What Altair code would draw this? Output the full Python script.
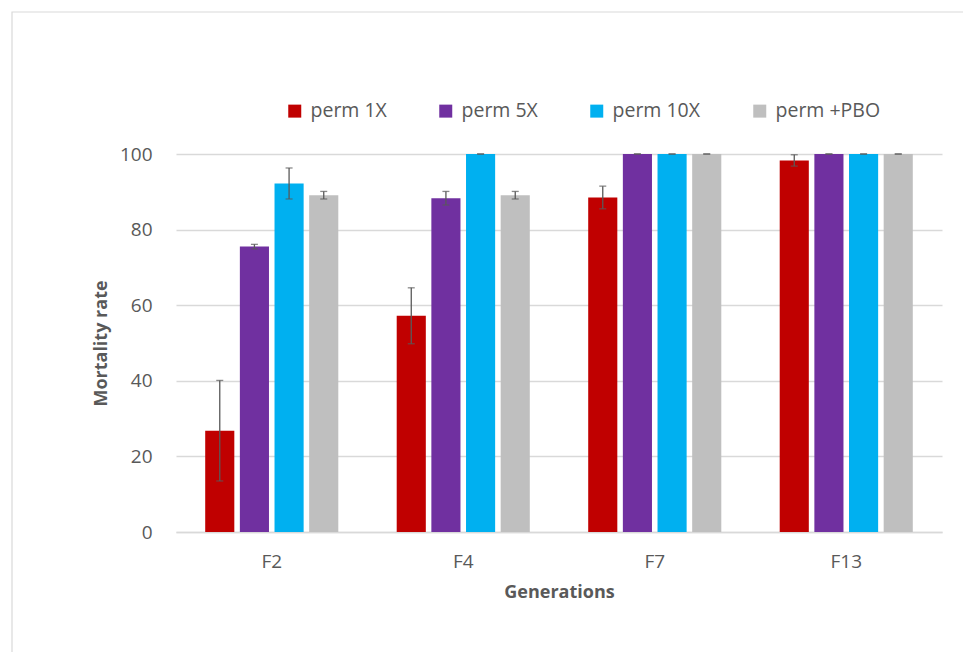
import altair as alt
import pandas as pd

generations = ["F2", "F4", "F7", "F13"]
series = ["perm 1X", "perm 5X", "perm 10X", "perm +PBO"]
colors = ["#C00000", "#7030A0", "#00B0F0", "#BFBFBF"]

perm1x = [26.8, 57.2, 88.5, 98.3]
perm1x_err = [13.3, 7.4, 3.0, 1.5]
perm5x = [75.5, 88.3, 100, 100]
perm5x_err = [0.6, 1.8, 0, 0]
perm10x = [92.2, 100, 100, 100]
perm10x_err = [4.1, 0, 0, 0]
permpbo = [89.1, 89.1, 100, 100]
permpbo_err = [1.0, 1.0, 0, 0]

rows = []
for s, vals, errs in zip(series, [perm1x, perm5x, perm10x, permpbo],
                         [perm1x_err, perm5x_err, perm10x_err, permpbo_err]):
    for g, v, e in zip(generations, vals, errs):
        rows.append({"gen": g, "series": s, "value": v, "lo": v - e, "hi": min(v + e, 100)})
df = pd.DataFrame(rows)

W, H = 766, 378
FONT = "Open Sans"
TXT = "#595959"

x = alt.X("gen:N", sort=generations, title="Generations",
          scale=alt.Scale(paddingInner=0.305, paddingOuter=0.1525),
          axis=alt.Axis(labelAngle=0, ticks=False, domainColor="#D9D9D9", domainWidth=1.3,
                        labelPadding=20, titlePadding=12, labelFontSize=19, titleFontSize=18))
xo = alt.XOffset("series:N", sort=series, scale=alt.Scale(paddingInner=0.16))

base = alt.Chart(df)

bars = base.mark_bar().encode(
    x=x, xOffset=xo,
    y=alt.Y("value:Q", title="Mortality rate",
            scale=alt.Scale(domain=[0, 100], nice=False),
            axis=alt.Axis(values=[0, 20, 40, 60, 80, 100], domain=False, ticks=False,
                          gridColor="#D9D9D9", gridWidth=1.3, labelPadding=24,
                          titlePadding=9, labelFontSize=19, titleFontSize=18)),
    color=alt.Color("series:N", sort=series, title=None,
                    scale=alt.Scale(domain=series, range=colors),
                    legend=alt.Legend(orient="none", direction="horizontal", columns=4,
                                      legendX=109, legendY=-53, symbolType="square",
                                      symbolSize=169, symbolStrokeWidth=0, labelFontSize=19.5,
                                      labelColor=TXT, labelFont=FONT, columnPadding=49,
                                      labelOffset=6, padding=0)),
)

rule = base.mark_rule(color="#595959", strokeWidth=1.3).encode(
    x=x, xOffset=xo, y="lo:Q", y2="hi:Q")
cap_hi = base.mark_tick(color="#595959", size=7, thickness=1.3, orient="horizontal").encode(
    x=x, xOffset=xo, y="hi:Q")
cap_lo = base.mark_tick(color="#595959", size=7, thickness=1.3, orient="horizontal").encode(
    x=x, xOffset=xo, y="lo:Q")

border = alt.Chart(pd.DataFrame({"a": [0]})).mark_rect(
    fill="transparent", stroke="#D9D9D9", strokeWidth=1.2).encode(
    x=alt.value(-164), x2=alt.value(W + 60), y=alt.value(-142), y2=alt.value(H + 300))

chart = alt.layer(border, bars, rule, cap_hi, cap_lo).properties(
    width=W, height=H,
    autosize=alt.AutoSizeParams(type="none"),
    padding={"left": 168, "top": 146, "right": 21, "bottom": 120},
).configure(background="white").configure_view(stroke=None).configure_axis(
    labelColor=TXT, titleColor=TXT, labelFont=FONT, titleFont=FONT, titleFontWeight="bold"
).configure_legend(labelFont=FONT)

chart.save("out.html", embed_options={"renderer": "svg", "actions": False})
